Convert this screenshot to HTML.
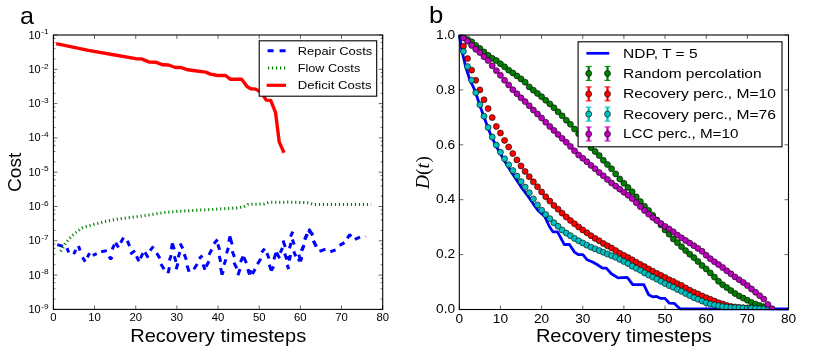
<!DOCTYPE html>
<html><head><meta charset="utf-8"><title>Recovery costs and D(t)</title>
<style>html,body{margin:0;padding:0;background:#fff;}body{width:831px;height:354px;overflow:hidden;font-family:"Liberation Sans", sans-serif;}svg{display:block;will-change:transform;}</style></head>
<body>
<svg width="831" height="354" viewBox="0 0 831 354" font-family='"Liberation Sans", sans-serif' fill="#000">
<rect width="831" height="354" fill="#fff"/>
<g id="panelA">
<g fill="none" stroke="#0000ff" stroke-width="3" stroke-linejoin="miter" stroke-miterlimit="1.7">
<polyline points="57.34,244.67 62.99,246.36"/>
<polyline points="66.95,248.06 68.79,252.29"/>
<polyline points="73.73,254.13 75.85,249.89"/>
<polyline points="78.53,246.08 80.08,250.6"/>
<polyline points="82.49,257.38 85.31,261.62"/>
<polyline points="87.43,257.38 89.55,253.14"/>
<polyline points="92.8,255.4 96.75,253.56"/>
<polyline points="101.13,251.73 106.78,250.6"/>
<polyline points="109.04,256.53 110.73,259.07 112.15,256.95"/>
<polyline points="112.15,249.47 114.41,244.67"/>
<polyline points="115.71,242.83 118.53,247.49"/>
<polyline points="120.65,242.83 123.47,237.6"/>
<polyline points="127.43,240.71 129.55,246.08"/>
<polyline points="130.25,254.13 135.06,250.6"/>
<polyline points="136.47,256.25 139.01,261.19"/>
<polyline points="140.42,258.37 142.97,253.14"/>
<polyline points="144.94,252.29 148.19,257.66"/>
<polyline points="150.03,250.6 153.42,246.36"/>
<polyline points="156.67,253.14 159.92,258.37"/>
<polyline points="160.9,264.02 164.15,269.24"/>
<polyline points="168.11,273.2 169.38,267.27"/>
<polyline points="169.38,260.49 171.21,255.12"/>
<polyline points="171.36,249.19 172.34,243.54 174.32,249.19"/>
<polyline points="174.32,256.25 176.02,261.9"/>
<polyline points="176.16,269.24 177.85,263.31"/>
<polyline points="178.28,257.38 179.83,252.01"/>
<polyline points="180.11,243.54 182.8,248.48"/>
<polyline points="184.21,254.13 186.33,259.78"/>
<polyline points="187.03,265.43 189.15,271.79"/>
<polyline points="193.84,269.24 197.23,264.02"/>
<polyline points="199.07,258.65 202.46,255.54"/>
<polyline points="203.02,264.44 205,269.67"/>
<polyline points="205.99,266.7 208.95,261.33"/>
<polyline points="208.95,254.84 211.78,249.47"/>
<polyline points="213.9,243.82 217.57,239.58"/>
<polyline points="217.85,244.24 219.55,249.89"/>
<polyline points="219.27,255.97 220.68,261.9"/>
<polyline points="220.68,267.97 222.09,274.61 223.22,270.94"/>
<polyline points="224.07,264.72 225.9,259.36"/>
<polyline points="226.61,253.42 228.31,247.77"/>
<polyline points="228.87,241.84 229.86,236.47 232.12,244.38"/>
<polyline points="232.26,251.31 234.38,256.95"/>
<polyline points="233.95,262.6 236.78,268.25"/>
<polyline points="237.91,275.32 240.03,268.96"/>
<polyline points="240.45,262.18 242.43,257.8 244.27,258.23 246.38,263.03"/>
<polyline points="247.8,269.24 249.49,274.33"/>
<polyline points="248.11,269.5 249.66,274.31 251.07,270.35"/>
<polyline points="252.34,274.02 255.17,269.08"/>
<polyline points="257.43,264.14 260.82,258.77"/>
<polyline points="261.67,252.41 264.77,248.6"/>
<polyline points="266.89,253.12 269.01,258.49"/>
<polyline points="269.29,264.7 271.27,270.35 273.67,266.54"/>
<polyline points="273.95,259.33 275.51,253.97 277.2,253.68 279.6,258.34"/>
<polyline points="280.31,252.84 282.43,247.89"/>
<polyline points="282.99,240.41 285.25,246.9"/>
<polyline points="284.69,253.54 286.81,259.62"/>
<polyline points="287.94,255.94 289.49,260.18 290.48,254.95"/>
<polyline points="287.09,264.84 288.79,269.08"/>
<polyline points="289.49,248.32 291.05,242.95"/>
<polyline points="292.46,239.56 294.15,244.5"/>
<polyline points="290.48,236.73 292.88,231.65"/>
<polyline points="293.73,251.42 295.85,256.37"/>
<polyline points="297.82,260.89 301.92,257.78"/>
<polyline points="301.5,250.72 304.04,245.07"/>
<polyline points="304.6,239.42 307.43,234.19"/>
<polyline points="308.42,230.52 309.41,229.95 312.8,235.18"/>
<polyline points="313.5,240.83 316.33,246.48"/>
<polyline points="298.87,254.6 300.56,261.24 301.69,257.01"/>
<polyline points="301.69,250.79 303.95,245.42"/>
<polyline points="304.94,239.49 306.78,234.12"/>
<polyline points="308.19,232.43 309.6,231.16 312.71,235.11"/>
<polyline points="313.42,240.9 316.24,246.55"/>
<polyline points="319.49,251.36 325.42,249.1"/>
<polyline points="330.37,251.78 335.59,249.94"/>
<polyline points="339.55,245.42 344.49,242.6"/>
<polyline points="347.32,238.36 349.72,234.55 351.13,236.67"/>
<polyline points="354.8,239.49 360.03,237.23"/>
</g>
<polyline points="364.9,235.2 366.5,237.8" fill="none" stroke="#8c8cff" stroke-width="0.8"/>
<polyline points="60.6,251.3 63.2,247.4 65.2,243.8 67,241.4 69.1,238.9 73.1,234.9 75.1,233.2 77.6,231.6 80.7,228.5 84.7,226.9 88.9,225.9 92.4,224.8 96.7,223.6 100.5,222.7 104.4,221.7 108,220.9 111.5,220.3 115.7,219.4 119.7,218.8 123.5,218.3 127.3,217.9 134.7,217 148.9,215 163,212.7 178.9,211.2 207.8,209.7 236.6,207.9 243.9,206.8 248.2,204.4 264,203.9 268.4,202.4 288.6,202.1 307.4,202.7 314.6,204.6 371.2,204.6" fill="none" stroke="#008000" stroke-width="3" stroke-dasharray="1.15 2.85"/>
<polyline points="56.1,43.6 88.4,50.3 112,54.5 135.8,58.7 141.5,58.9 149.4,62.1 156.2,62.3 162.9,64.8 168.6,65 175.4,67.5 181,67.5 187.8,69.8 195,70.7 205.7,72.1 210.5,74.1 217.6,75.5 225.5,75.5 230.3,79.2 241.6,79.2 247.3,86.8 250.9,88.8 255.7,89.1 261.4,92.5 266.2,100.1 270.7,100.4 275.5,112.3 279.2,141.9 284,152.7" fill="none" stroke="#ff0000" stroke-width="3.4" stroke-linejoin="round"/>
<line x1="53.4" x2="53.4" y1="309.4" y2="305.4" stroke="#000" stroke-width="0.6"/>
<line x1="53.4" x2="53.4" y1="35" y2="39" stroke="#000" stroke-width="0.6"/>
<line x1="94.56" x2="94.56" y1="309.4" y2="305.4" stroke="#000" stroke-width="0.6"/>
<line x1="94.56" x2="94.56" y1="35" y2="39" stroke="#000" stroke-width="0.6"/>
<line x1="135.72" x2="135.72" y1="309.4" y2="305.4" stroke="#000" stroke-width="0.6"/>
<line x1="135.72" x2="135.72" y1="35" y2="39" stroke="#000" stroke-width="0.6"/>
<line x1="176.89" x2="176.89" y1="309.4" y2="305.4" stroke="#000" stroke-width="0.6"/>
<line x1="176.89" x2="176.89" y1="35" y2="39" stroke="#000" stroke-width="0.6"/>
<line x1="218.05" x2="218.05" y1="309.4" y2="305.4" stroke="#000" stroke-width="0.6"/>
<line x1="218.05" x2="218.05" y1="35" y2="39" stroke="#000" stroke-width="0.6"/>
<line x1="259.21" x2="259.21" y1="309.4" y2="305.4" stroke="#000" stroke-width="0.6"/>
<line x1="259.21" x2="259.21" y1="35" y2="39" stroke="#000" stroke-width="0.6"/>
<line x1="300.38" x2="300.38" y1="309.4" y2="305.4" stroke="#000" stroke-width="0.6"/>
<line x1="300.38" x2="300.38" y1="35" y2="39" stroke="#000" stroke-width="0.6"/>
<line x1="341.54" x2="341.54" y1="309.4" y2="305.4" stroke="#000" stroke-width="0.6"/>
<line x1="341.54" x2="341.54" y1="35" y2="39" stroke="#000" stroke-width="0.6"/>
<line x1="382.7" x2="382.7" y1="309.4" y2="305.4" stroke="#000" stroke-width="0.6"/>
<line x1="382.7" x2="382.7" y1="35" y2="39" stroke="#000" stroke-width="0.6"/>
<line x1="53.4" x2="57.4" y1="309.4" y2="309.4" stroke="#000" stroke-width="0.6"/>
<line x1="382.7" x2="378.7" y1="309.4" y2="309.4" stroke="#000" stroke-width="0.6"/>
<line x1="53.4" x2="55.4" y1="299.07" y2="299.07" stroke="#000" stroke-width="0.6"/>
<line x1="382.7" x2="380.7" y1="299.07" y2="299.07" stroke="#000" stroke-width="0.6"/>
<line x1="53.4" x2="55.4" y1="288.75" y2="288.75" stroke="#000" stroke-width="0.6"/>
<line x1="382.7" x2="380.7" y1="288.75" y2="288.75" stroke="#000" stroke-width="0.6"/>
<line x1="53.4" x2="55.4" y1="282.71" y2="282.71" stroke="#000" stroke-width="0.6"/>
<line x1="382.7" x2="380.7" y1="282.71" y2="282.71" stroke="#000" stroke-width="0.6"/>
<line x1="53.4" x2="55.4" y1="278.42" y2="278.42" stroke="#000" stroke-width="0.6"/>
<line x1="382.7" x2="380.7" y1="278.42" y2="278.42" stroke="#000" stroke-width="0.6"/>
<line x1="53.4" x2="57.4" y1="275.1" y2="275.1" stroke="#000" stroke-width="0.6"/>
<line x1="382.7" x2="378.7" y1="275.1" y2="275.1" stroke="#000" stroke-width="0.6"/>
<line x1="53.4" x2="55.4" y1="264.77" y2="264.77" stroke="#000" stroke-width="0.6"/>
<line x1="382.7" x2="380.7" y1="264.77" y2="264.77" stroke="#000" stroke-width="0.6"/>
<line x1="53.4" x2="55.4" y1="254.45" y2="254.45" stroke="#000" stroke-width="0.6"/>
<line x1="382.7" x2="380.7" y1="254.45" y2="254.45" stroke="#000" stroke-width="0.6"/>
<line x1="53.4" x2="55.4" y1="248.41" y2="248.41" stroke="#000" stroke-width="0.6"/>
<line x1="382.7" x2="380.7" y1="248.41" y2="248.41" stroke="#000" stroke-width="0.6"/>
<line x1="53.4" x2="55.4" y1="244.12" y2="244.12" stroke="#000" stroke-width="0.6"/>
<line x1="382.7" x2="380.7" y1="244.12" y2="244.12" stroke="#000" stroke-width="0.6"/>
<line x1="53.4" x2="57.4" y1="240.8" y2="240.8" stroke="#000" stroke-width="0.6"/>
<line x1="382.7" x2="378.7" y1="240.8" y2="240.8" stroke="#000" stroke-width="0.6"/>
<line x1="53.4" x2="55.4" y1="230.47" y2="230.47" stroke="#000" stroke-width="0.6"/>
<line x1="382.7" x2="380.7" y1="230.47" y2="230.47" stroke="#000" stroke-width="0.6"/>
<line x1="53.4" x2="55.4" y1="220.15" y2="220.15" stroke="#000" stroke-width="0.6"/>
<line x1="382.7" x2="380.7" y1="220.15" y2="220.15" stroke="#000" stroke-width="0.6"/>
<line x1="53.4" x2="55.4" y1="214.11" y2="214.11" stroke="#000" stroke-width="0.6"/>
<line x1="382.7" x2="380.7" y1="214.11" y2="214.11" stroke="#000" stroke-width="0.6"/>
<line x1="53.4" x2="55.4" y1="209.82" y2="209.82" stroke="#000" stroke-width="0.6"/>
<line x1="382.7" x2="380.7" y1="209.82" y2="209.82" stroke="#000" stroke-width="0.6"/>
<line x1="53.4" x2="57.4" y1="206.5" y2="206.5" stroke="#000" stroke-width="0.6"/>
<line x1="382.7" x2="378.7" y1="206.5" y2="206.5" stroke="#000" stroke-width="0.6"/>
<line x1="53.4" x2="55.4" y1="196.17" y2="196.17" stroke="#000" stroke-width="0.6"/>
<line x1="382.7" x2="380.7" y1="196.17" y2="196.17" stroke="#000" stroke-width="0.6"/>
<line x1="53.4" x2="55.4" y1="185.85" y2="185.85" stroke="#000" stroke-width="0.6"/>
<line x1="382.7" x2="380.7" y1="185.85" y2="185.85" stroke="#000" stroke-width="0.6"/>
<line x1="53.4" x2="55.4" y1="179.81" y2="179.81" stroke="#000" stroke-width="0.6"/>
<line x1="382.7" x2="380.7" y1="179.81" y2="179.81" stroke="#000" stroke-width="0.6"/>
<line x1="53.4" x2="55.4" y1="175.52" y2="175.52" stroke="#000" stroke-width="0.6"/>
<line x1="382.7" x2="380.7" y1="175.52" y2="175.52" stroke="#000" stroke-width="0.6"/>
<line x1="53.4" x2="57.4" y1="172.2" y2="172.2" stroke="#000" stroke-width="0.6"/>
<line x1="382.7" x2="378.7" y1="172.2" y2="172.2" stroke="#000" stroke-width="0.6"/>
<line x1="53.4" x2="55.4" y1="161.87" y2="161.87" stroke="#000" stroke-width="0.6"/>
<line x1="382.7" x2="380.7" y1="161.87" y2="161.87" stroke="#000" stroke-width="0.6"/>
<line x1="53.4" x2="55.4" y1="151.55" y2="151.55" stroke="#000" stroke-width="0.6"/>
<line x1="382.7" x2="380.7" y1="151.55" y2="151.55" stroke="#000" stroke-width="0.6"/>
<line x1="53.4" x2="55.4" y1="145.51" y2="145.51" stroke="#000" stroke-width="0.6"/>
<line x1="382.7" x2="380.7" y1="145.51" y2="145.51" stroke="#000" stroke-width="0.6"/>
<line x1="53.4" x2="55.4" y1="141.22" y2="141.22" stroke="#000" stroke-width="0.6"/>
<line x1="382.7" x2="380.7" y1="141.22" y2="141.22" stroke="#000" stroke-width="0.6"/>
<line x1="53.4" x2="57.4" y1="137.9" y2="137.9" stroke="#000" stroke-width="0.6"/>
<line x1="382.7" x2="378.7" y1="137.9" y2="137.9" stroke="#000" stroke-width="0.6"/>
<line x1="53.4" x2="55.4" y1="127.57" y2="127.57" stroke="#000" stroke-width="0.6"/>
<line x1="382.7" x2="380.7" y1="127.57" y2="127.57" stroke="#000" stroke-width="0.6"/>
<line x1="53.4" x2="55.4" y1="117.25" y2="117.25" stroke="#000" stroke-width="0.6"/>
<line x1="382.7" x2="380.7" y1="117.25" y2="117.25" stroke="#000" stroke-width="0.6"/>
<line x1="53.4" x2="55.4" y1="111.21" y2="111.21" stroke="#000" stroke-width="0.6"/>
<line x1="382.7" x2="380.7" y1="111.21" y2="111.21" stroke="#000" stroke-width="0.6"/>
<line x1="53.4" x2="55.4" y1="106.92" y2="106.92" stroke="#000" stroke-width="0.6"/>
<line x1="382.7" x2="380.7" y1="106.92" y2="106.92" stroke="#000" stroke-width="0.6"/>
<line x1="53.4" x2="57.4" y1="103.6" y2="103.6" stroke="#000" stroke-width="0.6"/>
<line x1="382.7" x2="378.7" y1="103.6" y2="103.6" stroke="#000" stroke-width="0.6"/>
<line x1="53.4" x2="55.4" y1="93.27" y2="93.27" stroke="#000" stroke-width="0.6"/>
<line x1="382.7" x2="380.7" y1="93.27" y2="93.27" stroke="#000" stroke-width="0.6"/>
<line x1="53.4" x2="55.4" y1="82.95" y2="82.95" stroke="#000" stroke-width="0.6"/>
<line x1="382.7" x2="380.7" y1="82.95" y2="82.95" stroke="#000" stroke-width="0.6"/>
<line x1="53.4" x2="55.4" y1="76.91" y2="76.91" stroke="#000" stroke-width="0.6"/>
<line x1="382.7" x2="380.7" y1="76.91" y2="76.91" stroke="#000" stroke-width="0.6"/>
<line x1="53.4" x2="55.4" y1="72.62" y2="72.62" stroke="#000" stroke-width="0.6"/>
<line x1="382.7" x2="380.7" y1="72.62" y2="72.62" stroke="#000" stroke-width="0.6"/>
<line x1="53.4" x2="57.4" y1="69.3" y2="69.3" stroke="#000" stroke-width="0.6"/>
<line x1="382.7" x2="378.7" y1="69.3" y2="69.3" stroke="#000" stroke-width="0.6"/>
<line x1="53.4" x2="55.4" y1="58.97" y2="58.97" stroke="#000" stroke-width="0.6"/>
<line x1="382.7" x2="380.7" y1="58.97" y2="58.97" stroke="#000" stroke-width="0.6"/>
<line x1="53.4" x2="55.4" y1="48.65" y2="48.65" stroke="#000" stroke-width="0.6"/>
<line x1="382.7" x2="380.7" y1="48.65" y2="48.65" stroke="#000" stroke-width="0.6"/>
<line x1="53.4" x2="55.4" y1="42.61" y2="42.61" stroke="#000" stroke-width="0.6"/>
<line x1="382.7" x2="380.7" y1="42.61" y2="42.61" stroke="#000" stroke-width="0.6"/>
<line x1="53.4" x2="55.4" y1="38.32" y2="38.32" stroke="#000" stroke-width="0.6"/>
<line x1="382.7" x2="380.7" y1="38.32" y2="38.32" stroke="#000" stroke-width="0.6"/>
<line x1="53.4" x2="57.4" y1="35" y2="35" stroke="#000" stroke-width="0.6"/>
<line x1="382.7" x2="378.7" y1="35" y2="35" stroke="#000" stroke-width="0.6"/>
<rect x="53.4" y="35" width="329.3" height="274.4" fill="none" stroke="#000" stroke-width="1.1"/>
<text x="50.25" y="321.3" font-size="10.2" textLength="6.3" lengthAdjust="spacingAndGlyphs">0</text>
<text x="88.26" y="321.3" font-size="10.2" textLength="12.6" lengthAdjust="spacingAndGlyphs">10</text>
<text x="129.42" y="321.3" font-size="10.2" textLength="12.6" lengthAdjust="spacingAndGlyphs">20</text>
<text x="170.59" y="321.3" font-size="10.2" textLength="12.6" lengthAdjust="spacingAndGlyphs">30</text>
<text x="211.75" y="321.3" font-size="10.2" textLength="12.6" lengthAdjust="spacingAndGlyphs">40</text>
<text x="252.91" y="321.3" font-size="10.2" textLength="12.6" lengthAdjust="spacingAndGlyphs">50</text>
<text x="294.07" y="321.3" font-size="10.2" textLength="12.6" lengthAdjust="spacingAndGlyphs">60</text>
<text x="335.24" y="321.3" font-size="10.2" textLength="12.6" lengthAdjust="spacingAndGlyphs">70</text>
<text x="376.4" y="321.3" font-size="10.2" textLength="12.6" lengthAdjust="spacingAndGlyphs">80</text>
<text x="40.7" y="312.9" font-size="10.6" text-anchor="end" textLength="12.2" lengthAdjust="spacingAndGlyphs">10</text>
<text x="41.2" y="308.6" font-size="7.6" textLength="7.4" lengthAdjust="spacingAndGlyphs">-9</text>
<text x="40.7" y="278.6" font-size="10.6" text-anchor="end" textLength="12.2" lengthAdjust="spacingAndGlyphs">10</text>
<text x="41.2" y="274.3" font-size="7.6" textLength="7.4" lengthAdjust="spacingAndGlyphs">-8</text>
<text x="40.7" y="244.3" font-size="10.6" text-anchor="end" textLength="12.2" lengthAdjust="spacingAndGlyphs">10</text>
<text x="41.2" y="240" font-size="7.6" textLength="7.4" lengthAdjust="spacingAndGlyphs">-7</text>
<text x="40.7" y="210" font-size="10.6" text-anchor="end" textLength="12.2" lengthAdjust="spacingAndGlyphs">10</text>
<text x="41.2" y="205.7" font-size="7.6" textLength="7.4" lengthAdjust="spacingAndGlyphs">-6</text>
<text x="40.7" y="175.7" font-size="10.6" text-anchor="end" textLength="12.2" lengthAdjust="spacingAndGlyphs">10</text>
<text x="41.2" y="171.4" font-size="7.6" textLength="7.4" lengthAdjust="spacingAndGlyphs">-5</text>
<text x="40.7" y="141.4" font-size="10.6" text-anchor="end" textLength="12.2" lengthAdjust="spacingAndGlyphs">10</text>
<text x="41.2" y="137.1" font-size="7.6" textLength="7.4" lengthAdjust="spacingAndGlyphs">-4</text>
<text x="40.7" y="107.1" font-size="10.6" text-anchor="end" textLength="12.2" lengthAdjust="spacingAndGlyphs">10</text>
<text x="41.2" y="102.8" font-size="7.6" textLength="7.4" lengthAdjust="spacingAndGlyphs">-3</text>
<text x="40.7" y="72.8" font-size="10.6" text-anchor="end" textLength="12.2" lengthAdjust="spacingAndGlyphs">10</text>
<text x="41.2" y="68.5" font-size="7.6" textLength="7.4" lengthAdjust="spacingAndGlyphs">-2</text>
<text x="40.7" y="38.5" font-size="10.6" text-anchor="end" textLength="12.2" lengthAdjust="spacingAndGlyphs">10</text>
<text x="41.2" y="34.2" font-size="7.6" textLength="7.4" lengthAdjust="spacingAndGlyphs">-1</text>
<text x="130.2" y="341.9" font-size="18.2" textLength="176" lengthAdjust="spacingAndGlyphs">Recovery timesteps</text>
<text transform="translate(21.0 172.3) rotate(-90)" font-size="18.8" text-anchor="middle" textLength="39.2" lengthAdjust="spacingAndGlyphs">Cost</text>
<text x="19.9" y="24.0" font-size="24" textLength="14.0" lengthAdjust="spacingAndGlyphs">a</text>
<rect x="259.2" y="40.8" width="117.5" height="55.4" fill="#fff" stroke="#000" stroke-width="1.1"/>
<line x1="267.6" x2="286" y1="50.8" y2="50.8" stroke="#0000ff" stroke-width="3" stroke-dasharray="6 6"/>
<line x1="268.0" x2="286" y1="68.0" y2="68.0" stroke="#008000" stroke-width="3" stroke-dasharray="1.15 2.85"/>
<line x1="266.6" x2="286" y1="85.3" y2="85.3" stroke="#ff0000" stroke-width="3.2"/>
<text x="297.8" y="54.7" font-size="11.6" textLength="74.4" lengthAdjust="spacingAndGlyphs">Repair Costs</text>
<text x="297.8" y="71.9" font-size="11.6" textLength="62.4" lengthAdjust="spacingAndGlyphs">Flow Costs</text>
<text x="297.8" y="89.2" font-size="11.6" textLength="73.7" lengthAdjust="spacingAndGlyphs">Deficit Costs</text>
</g>
<g id="panelB">
<polyline points="459.3,35 462.1,51.47 465.51,66.29 469.92,80.02 475.02,90.72 479.88,105.55 483.99,117.08 488.11,128.33 492.22,138.21 496.34,146.45 500.45,153.86 504.56,161.13 508.68,167.86 512.79,174.31 516.91,180.49 521.02,186.8 525.14,192.29 529.25,197.92 533.37,204.09 538,210.5 544.7,216.4 549.4,226.5 552.9,231.8 557.5,231.8 564.3,244.5 569.4,244.5 574.5,252.1 578.3,254.7 582.9,254.7 587.2,259.8 593.1,262.3 597.4,264.8 602.5,268.1 606.3,268.1 611.4,273.7 618.1,277.9 627.2,277.3 632.8,284.7 643.8,284.7 648.7,294.8 652.6,296.8 656.6,296.4 660.7,298.4 664.9,298.4 669.4,303.2 674.2,303.3 678.5,307.5 680.3,308.8 788.5,309" fill="none" stroke="#0000ff" stroke-width="2.8" stroke-linejoin="round"/>
<clipPath id="cb"><rect x="459.3" y="35" width="329.2" height="274.5"/></clipPath>
<g clip-path="url(#cb)">
<circle cx="463.42" cy="36.92" r="3.0" fill="#008000" stroke="#000" stroke-width="0.6"/>
<circle cx="467.53" cy="39.39" r="3.0" fill="#008000" stroke="#000" stroke-width="0.6"/>
<circle cx="471.64" cy="41.86" r="3.0" fill="#008000" stroke="#000" stroke-width="0.6"/>
<circle cx="475.76" cy="45.43" r="3.0" fill="#008000" stroke="#000" stroke-width="0.6"/>
<circle cx="479.88" cy="48.45" r="3.0" fill="#008000" stroke="#000" stroke-width="0.6"/>
<circle cx="483.99" cy="52.02" r="3.0" fill="#008000" stroke="#000" stroke-width="0.6"/>
<circle cx="488.11" cy="55.31" r="3.0" fill="#008000" stroke="#000" stroke-width="0.6"/>
<circle cx="492.22" cy="58.33" r="3.0" fill="#008000" stroke="#000" stroke-width="0.6"/>
<circle cx="496.34" cy="60.53" r="3.0" fill="#008000" stroke="#000" stroke-width="0.6"/>
<circle cx="500.45" cy="63.82" r="3.0" fill="#008000" stroke="#000" stroke-width="0.6"/>
<circle cx="504.56" cy="66.84" r="3.0" fill="#008000" stroke="#000" stroke-width="0.6"/>
<circle cx="508.68" cy="70.14" r="3.0" fill="#008000" stroke="#000" stroke-width="0.6"/>
<circle cx="512.79" cy="72.88" r="3.0" fill="#008000" stroke="#000" stroke-width="0.6"/>
<circle cx="516.91" cy="75.9" r="3.0" fill="#008000" stroke="#000" stroke-width="0.6"/>
<circle cx="521.02" cy="78.92" r="3.0" fill="#008000" stroke="#000" stroke-width="0.6"/>
<circle cx="525.14" cy="82.21" r="3.0" fill="#008000" stroke="#000" stroke-width="0.6"/>
<circle cx="529.25" cy="86.88" r="3.0" fill="#008000" stroke="#000" stroke-width="0.6"/>
<circle cx="533.37" cy="90.17" r="3.0" fill="#008000" stroke="#000" stroke-width="0.6"/>
<circle cx="537.49" cy="93.47" r="3.0" fill="#008000" stroke="#000" stroke-width="0.6"/>
<circle cx="541.6" cy="96.76" r="3.0" fill="#008000" stroke="#000" stroke-width="0.6"/>
<circle cx="545.72" cy="100.33" r="3.0" fill="#008000" stroke="#000" stroke-width="0.6"/>
<circle cx="549.83" cy="103.9" r="3.0" fill="#008000" stroke="#000" stroke-width="0.6"/>
<circle cx="553.95" cy="107.74" r="3.0" fill="#008000" stroke="#000" stroke-width="0.6"/>
<circle cx="558.06" cy="111.86" r="3.0" fill="#008000" stroke="#000" stroke-width="0.6"/>
<circle cx="562.17" cy="115.84" r="3.0" fill="#008000" stroke="#000" stroke-width="0.6"/>
<circle cx="566.29" cy="120.26" r="3.0" fill="#008000" stroke="#000" stroke-width="0.6"/>
<circle cx="570.4" cy="124.32" r="3.0" fill="#008000" stroke="#000" stroke-width="0.6"/>
<circle cx="574.52" cy="129.07" r="3.0" fill="#008000" stroke="#000" stroke-width="0.6"/>
<circle cx="578.63" cy="133.82" r="3.0" fill="#008000" stroke="#000" stroke-width="0.6"/>
<circle cx="582.75" cy="138.76" r="3.0" fill="#008000" stroke="#000" stroke-width="0.6"/>
<circle cx="586.87" cy="143.15" r="3.0" fill="#008000" stroke="#000" stroke-width="0.6"/>
<circle cx="590.98" cy="147.63" r="3.0" fill="#008000" stroke="#000" stroke-width="0.6"/>
<circle cx="595.1" cy="151.53" r="3.0" fill="#008000" stroke="#000" stroke-width="0.6"/>
<circle cx="599.21" cy="155.59" r="3.0" fill="#008000" stroke="#000" stroke-width="0.6"/>
<circle cx="603.33" cy="160.34" r="3.0" fill="#008000" stroke="#000" stroke-width="0.6"/>
<circle cx="607.44" cy="164.56" r="3.0" fill="#008000" stroke="#000" stroke-width="0.6"/>
<circle cx="611.56" cy="168.82" r="3.0" fill="#008000" stroke="#000" stroke-width="0.6"/>
<circle cx="615.67" cy="173.9" r="3.0" fill="#008000" stroke="#000" stroke-width="0.6"/>
<circle cx="619.78" cy="178.98" r="3.0" fill="#008000" stroke="#000" stroke-width="0.6"/>
<circle cx="623.9" cy="183.23" r="3.0" fill="#008000" stroke="#000" stroke-width="0.6"/>
<circle cx="628.01" cy="187.46" r="3.0" fill="#008000" stroke="#000" stroke-width="0.6"/>
<circle cx="632.13" cy="191.74" r="3.0" fill="#008000" stroke="#000" stroke-width="0.6"/>
<circle cx="636.25" cy="196.87" r="3.0" fill="#008000" stroke="#000" stroke-width="0.6"/>
<circle cx="640.36" cy="201.62" r="3.0" fill="#008000" stroke="#000" stroke-width="0.6"/>
<circle cx="644.48" cy="206.18" r="3.0" fill="#008000" stroke="#000" stroke-width="0.6"/>
<circle cx="648.59" cy="210.43" r="3.0" fill="#008000" stroke="#000" stroke-width="0.6"/>
<circle cx="652.71" cy="215.18" r="3.0" fill="#008000" stroke="#000" stroke-width="0.6"/>
<circle cx="656.82" cy="220.01" r="3.0" fill="#008000" stroke="#000" stroke-width="0.6"/>
<circle cx="660.93" cy="224.95" r="3.0" fill="#008000" stroke="#000" stroke-width="0.6"/>
<circle cx="665.05" cy="229.9" r="3.0" fill="#008000" stroke="#000" stroke-width="0.6"/>
<circle cx="669.16" cy="234.15" r="3.0" fill="#008000" stroke="#000" stroke-width="0.6"/>
<circle cx="673.28" cy="238.9" r="3.0" fill="#008000" stroke="#000" stroke-width="0.6"/>
<circle cx="677.39" cy="242.63" r="3.0" fill="#008000" stroke="#000" stroke-width="0.6"/>
<circle cx="681.51" cy="246.64" r="3.0" fill="#008000" stroke="#000" stroke-width="0.6"/>
<circle cx="685.62" cy="250.62" r="3.0" fill="#008000" stroke="#000" stroke-width="0.6"/>
<circle cx="689.74" cy="254.19" r="3.0" fill="#008000" stroke="#000" stroke-width="0.6"/>
<circle cx="693.86" cy="257.62" r="3.0" fill="#008000" stroke="#000" stroke-width="0.6"/>
<circle cx="697.97" cy="261.52" r="3.0" fill="#008000" stroke="#000" stroke-width="0.6"/>
<circle cx="702.09" cy="265.58" r="3.0" fill="#008000" stroke="#000" stroke-width="0.6"/>
<circle cx="706.2" cy="268.98" r="3.0" fill="#008000" stroke="#000" stroke-width="0.6"/>
<circle cx="710.32" cy="272.88" r="3.0" fill="#008000" stroke="#000" stroke-width="0.6"/>
<circle cx="714.43" cy="277.11" r="3.0" fill="#008000" stroke="#000" stroke-width="0.6"/>
<circle cx="718.55" cy="281.36" r="3.0" fill="#008000" stroke="#000" stroke-width="0.6"/>
<circle cx="722.66" cy="284.8" r="3.0" fill="#008000" stroke="#000" stroke-width="0.6"/>
<circle cx="726.78" cy="287.62" r="3.0" fill="#008000" stroke="#000" stroke-width="0.6"/>
<circle cx="730.89" cy="290.61" r="3.0" fill="#008000" stroke="#000" stroke-width="0.6"/>
<circle cx="735" cy="293.58" r="3.0" fill="#008000" stroke="#000" stroke-width="0.6"/>
<circle cx="739.12" cy="296.05" r="3.0" fill="#008000" stroke="#000" stroke-width="0.6"/>
<circle cx="743.24" cy="298.11" r="3.0" fill="#008000" stroke="#000" stroke-width="0.6"/>
<circle cx="747.35" cy="300.17" r="3.0" fill="#008000" stroke="#000" stroke-width="0.6"/>
<circle cx="751.47" cy="302.45" r="3.0" fill="#008000" stroke="#000" stroke-width="0.6"/>
<circle cx="755.58" cy="304.15" r="3.0" fill="#008000" stroke="#000" stroke-width="0.6"/>
<circle cx="759.69" cy="305.52" r="3.0" fill="#008000" stroke="#000" stroke-width="0.6"/>
<circle cx="763.81" cy="306.7" r="3.0" fill="#008000" stroke="#000" stroke-width="0.6"/>
<circle cx="767.92" cy="307.88" r="3.0" fill="#008000" stroke="#000" stroke-width="0.6"/>
<circle cx="772.04" cy="308.95" r="3.0" fill="#008000" stroke="#000" stroke-width="0.6"/>
<circle cx="463.42" cy="46.25" r="3.0" fill="#ff0000" stroke="#000" stroke-width="0.6"/>
<circle cx="467.53" cy="58.61" r="3.0" fill="#ff0000" stroke="#000" stroke-width="0.6"/>
<circle cx="471.64" cy="70.14" r="3.0" fill="#ff0000" stroke="#000" stroke-width="0.6"/>
<circle cx="475.76" cy="80.29" r="3.0" fill="#ff0000" stroke="#000" stroke-width="0.6"/>
<circle cx="479.88" cy="89.9" r="3.0" fill="#ff0000" stroke="#000" stroke-width="0.6"/>
<circle cx="483.99" cy="99.78" r="3.0" fill="#ff0000" stroke="#000" stroke-width="0.6"/>
<circle cx="488.11" cy="108.57" r="3.0" fill="#ff0000" stroke="#000" stroke-width="0.6"/>
<circle cx="492.22" cy="117.62" r="3.0" fill="#ff0000" stroke="#000" stroke-width="0.6"/>
<circle cx="496.34" cy="126.41" r="3.0" fill="#ff0000" stroke="#000" stroke-width="0.6"/>
<circle cx="500.45" cy="133" r="3.0" fill="#ff0000" stroke="#000" stroke-width="0.6"/>
<circle cx="504.56" cy="140.41" r="3.0" fill="#ff0000" stroke="#000" stroke-width="0.6"/>
<circle cx="508.68" cy="147" r="3.0" fill="#ff0000" stroke="#000" stroke-width="0.6"/>
<circle cx="512.79" cy="153.58" r="3.0" fill="#ff0000" stroke="#000" stroke-width="0.6"/>
<circle cx="516.91" cy="159.9" r="3.0" fill="#ff0000" stroke="#000" stroke-width="0.6"/>
<circle cx="521.02" cy="165.94" r="3.0" fill="#ff0000" stroke="#000" stroke-width="0.6"/>
<circle cx="525.14" cy="171.43" r="3.0" fill="#ff0000" stroke="#000" stroke-width="0.6"/>
<circle cx="529.25" cy="176.64" r="3.0" fill="#ff0000" stroke="#000" stroke-width="0.6"/>
<circle cx="533.37" cy="181.86" r="3.0" fill="#ff0000" stroke="#000" stroke-width="0.6"/>
<circle cx="537.49" cy="186.8" r="3.0" fill="#ff0000" stroke="#000" stroke-width="0.6"/>
<circle cx="541.6" cy="191.88" r="3.0" fill="#ff0000" stroke="#000" stroke-width="0.6"/>
<circle cx="545.72" cy="196.68" r="3.0" fill="#ff0000" stroke="#000" stroke-width="0.6"/>
<circle cx="549.83" cy="201.07" r="3.0" fill="#ff0000" stroke="#000" stroke-width="0.6"/>
<circle cx="553.95" cy="205.46" r="3.0" fill="#ff0000" stroke="#000" stroke-width="0.6"/>
<circle cx="558.06" cy="209.17" r="3.0" fill="#ff0000" stroke="#000" stroke-width="0.6"/>
<circle cx="562.17" cy="213.15" r="3.0" fill="#ff0000" stroke="#000" stroke-width="0.6"/>
<circle cx="566.29" cy="216.99" r="3.0" fill="#ff0000" stroke="#000" stroke-width="0.6"/>
<circle cx="570.4" cy="220.42" r="3.0" fill="#ff0000" stroke="#000" stroke-width="0.6"/>
<circle cx="574.52" cy="223.8" r="3.0" fill="#ff0000" stroke="#000" stroke-width="0.6"/>
<circle cx="578.63" cy="226.88" r="3.0" fill="#ff0000" stroke="#000" stroke-width="0.6"/>
<circle cx="582.75" cy="229.9" r="3.0" fill="#ff0000" stroke="#000" stroke-width="0.6"/>
<circle cx="586.87" cy="232.8" r="3.0" fill="#ff0000" stroke="#000" stroke-width="0.6"/>
<circle cx="590.98" cy="235.66" r="3.0" fill="#ff0000" stroke="#000" stroke-width="0.6"/>
<circle cx="595.1" cy="238.4" r="3.0" fill="#ff0000" stroke="#000" stroke-width="0.6"/>
<circle cx="599.21" cy="240.77" r="3.0" fill="#ff0000" stroke="#000" stroke-width="0.6"/>
<circle cx="603.33" cy="243.48" r="3.0" fill="#ff0000" stroke="#000" stroke-width="0.6"/>
<circle cx="607.44" cy="245.82" r="3.0" fill="#ff0000" stroke="#000" stroke-width="0.6"/>
<circle cx="611.56" cy="248.01" r="3.0" fill="#ff0000" stroke="#000" stroke-width="0.6"/>
<circle cx="615.67" cy="250.59" r="3.0" fill="#ff0000" stroke="#000" stroke-width="0.6"/>
<circle cx="619.78" cy="253.15" r="3.0" fill="#ff0000" stroke="#000" stroke-width="0.6"/>
<circle cx="623.9" cy="255.42" r="3.0" fill="#ff0000" stroke="#000" stroke-width="0.6"/>
<circle cx="628.01" cy="257.62" r="3.0" fill="#ff0000" stroke="#000" stroke-width="0.6"/>
<circle cx="632.13" cy="259.82" r="3.0" fill="#ff0000" stroke="#000" stroke-width="0.6"/>
<circle cx="636.25" cy="262.2" r="3.0" fill="#ff0000" stroke="#000" stroke-width="0.6"/>
<circle cx="640.36" cy="264.4" r="3.0" fill="#ff0000" stroke="#000" stroke-width="0.6"/>
<circle cx="644.48" cy="266.62" r="3.0" fill="#ff0000" stroke="#000" stroke-width="0.6"/>
<circle cx="648.59" cy="268.98" r="3.0" fill="#ff0000" stroke="#000" stroke-width="0.6"/>
<circle cx="652.71" cy="271.18" r="3.0" fill="#ff0000" stroke="#000" stroke-width="0.6"/>
<circle cx="656.82" cy="273.38" r="3.0" fill="#ff0000" stroke="#000" stroke-width="0.6"/>
<circle cx="660.93" cy="275.43" r="3.0" fill="#ff0000" stroke="#000" stroke-width="0.6"/>
<circle cx="665.05" cy="277.47" r="3.0" fill="#ff0000" stroke="#000" stroke-width="0.6"/>
<circle cx="669.16" cy="279.66" r="3.0" fill="#ff0000" stroke="#000" stroke-width="0.6"/>
<circle cx="673.28" cy="281.5" r="3.0" fill="#ff0000" stroke="#000" stroke-width="0.6"/>
<circle cx="677.39" cy="283.64" r="3.0" fill="#ff0000" stroke="#000" stroke-width="0.6"/>
<circle cx="681.51" cy="285.43" r="3.0" fill="#ff0000" stroke="#000" stroke-width="0.6"/>
<circle cx="685.62" cy="287.98" r="3.0" fill="#ff0000" stroke="#000" stroke-width="0.6"/>
<circle cx="689.74" cy="290.18" r="3.0" fill="#ff0000" stroke="#000" stroke-width="0.6"/>
<circle cx="693.86" cy="292.21" r="3.0" fill="#ff0000" stroke="#000" stroke-width="0.6"/>
<circle cx="697.97" cy="293.91" r="3.0" fill="#ff0000" stroke="#000" stroke-width="0.6"/>
<circle cx="702.09" cy="295.94" r="3.0" fill="#ff0000" stroke="#000" stroke-width="0.6"/>
<circle cx="706.2" cy="297.64" r="3.0" fill="#ff0000" stroke="#000" stroke-width="0.6"/>
<circle cx="710.32" cy="299.34" r="3.0" fill="#ff0000" stroke="#000" stroke-width="0.6"/>
<circle cx="714.43" cy="301.02" r="3.0" fill="#ff0000" stroke="#000" stroke-width="0.6"/>
<circle cx="718.55" cy="302.72" r="3.0" fill="#ff0000" stroke="#000" stroke-width="0.6"/>
<circle cx="722.66" cy="304.01" r="3.0" fill="#ff0000" stroke="#000" stroke-width="0.6"/>
<circle cx="726.78" cy="305.44" r="3.0" fill="#ff0000" stroke="#000" stroke-width="0.6"/>
<circle cx="730.89" cy="306.48" r="3.0" fill="#ff0000" stroke="#000" stroke-width="0.6"/>
<circle cx="735" cy="306.96" r="3.0" fill="#ff0000" stroke="#000" stroke-width="0.6"/>
<circle cx="739.12" cy="307.44" r="3.0" fill="#ff0000" stroke="#000" stroke-width="0.6"/>
<circle cx="743.24" cy="307.75" r="3.0" fill="#ff0000" stroke="#000" stroke-width="0.6"/>
<circle cx="747.35" cy="308.06" r="3.0" fill="#ff0000" stroke="#000" stroke-width="0.6"/>
<circle cx="751.47" cy="308.37" r="3.0" fill="#ff0000" stroke="#000" stroke-width="0.6"/>
<circle cx="755.58" cy="308.68" r="3.0" fill="#ff0000" stroke="#000" stroke-width="0.6"/>
<circle cx="759.69" cy="308.88" r="3.0" fill="#ff0000" stroke="#000" stroke-width="0.6"/>
<circle cx="763.81" cy="309.09" r="3.0" fill="#ff0000" stroke="#000" stroke-width="0.6"/>
<circle cx="767.92" cy="309.29" r="3.0" fill="#ff0000" stroke="#000" stroke-width="0.6"/>
<circle cx="772.04" cy="309.5" r="3.0" fill="#ff0000" stroke="#000" stroke-width="0.6"/>
<circle cx="463.42" cy="51.47" r="3.0" fill="#00bfbf" stroke="#000" stroke-width="0.6"/>
<circle cx="467.53" cy="66.57" r="3.0" fill="#00bfbf" stroke="#000" stroke-width="0.6"/>
<circle cx="471.64" cy="80.29" r="3.0" fill="#00bfbf" stroke="#000" stroke-width="0.6"/>
<circle cx="475.76" cy="92.64" r="3.0" fill="#00bfbf" stroke="#000" stroke-width="0.6"/>
<circle cx="479.88" cy="104.72" r="3.0" fill="#00bfbf" stroke="#000" stroke-width="0.6"/>
<circle cx="483.99" cy="116.25" r="3.0" fill="#00bfbf" stroke="#000" stroke-width="0.6"/>
<circle cx="488.11" cy="127.51" r="3.0" fill="#00bfbf" stroke="#000" stroke-width="0.6"/>
<circle cx="492.22" cy="137.11" r="3.0" fill="#00bfbf" stroke="#000" stroke-width="0.6"/>
<circle cx="496.34" cy="145.07" r="3.0" fill="#00bfbf" stroke="#000" stroke-width="0.6"/>
<circle cx="500.45" cy="152.21" r="3.0" fill="#00bfbf" stroke="#000" stroke-width="0.6"/>
<circle cx="504.56" cy="158.8" r="3.0" fill="#00bfbf" stroke="#000" stroke-width="0.6"/>
<circle cx="508.68" cy="164.84" r="3.0" fill="#00bfbf" stroke="#000" stroke-width="0.6"/>
<circle cx="512.79" cy="170.6" r="3.0" fill="#00bfbf" stroke="#000" stroke-width="0.6"/>
<circle cx="516.91" cy="176.09" r="3.0" fill="#00bfbf" stroke="#000" stroke-width="0.6"/>
<circle cx="521.02" cy="181.58" r="3.0" fill="#00bfbf" stroke="#000" stroke-width="0.6"/>
<circle cx="525.14" cy="187.07" r="3.0" fill="#00bfbf" stroke="#000" stroke-width="0.6"/>
<circle cx="529.25" cy="192.7" r="3.0" fill="#00bfbf" stroke="#000" stroke-width="0.6"/>
<circle cx="533.37" cy="198.88" r="3.0" fill="#00bfbf" stroke="#000" stroke-width="0.6"/>
<circle cx="537.49" cy="204.92" r="3.0" fill="#00bfbf" stroke="#000" stroke-width="0.6"/>
<circle cx="541.6" cy="210.13" r="3.0" fill="#00bfbf" stroke="#000" stroke-width="0.6"/>
<circle cx="545.72" cy="214.52" r="3.0" fill="#00bfbf" stroke="#000" stroke-width="0.6"/>
<circle cx="549.83" cy="218.64" r="3.0" fill="#00bfbf" stroke="#000" stroke-width="0.6"/>
<circle cx="553.95" cy="222.76" r="3.0" fill="#00bfbf" stroke="#000" stroke-width="0.6"/>
<circle cx="558.06" cy="226.33" r="3.0" fill="#00bfbf" stroke="#000" stroke-width="0.6"/>
<circle cx="562.17" cy="230" r="3.0" fill="#00bfbf" stroke="#000" stroke-width="0.6"/>
<circle cx="566.29" cy="233.05" r="3.0" fill="#00bfbf" stroke="#000" stroke-width="0.6"/>
<circle cx="570.4" cy="235.66" r="3.0" fill="#00bfbf" stroke="#000" stroke-width="0.6"/>
<circle cx="574.52" cy="238.4" r="3.0" fill="#00bfbf" stroke="#000" stroke-width="0.6"/>
<circle cx="578.63" cy="240.77" r="3.0" fill="#00bfbf" stroke="#000" stroke-width="0.6"/>
<circle cx="582.75" cy="242.96" r="3.0" fill="#00bfbf" stroke="#000" stroke-width="0.6"/>
<circle cx="586.87" cy="245.16" r="3.0" fill="#00bfbf" stroke="#000" stroke-width="0.6"/>
<circle cx="590.98" cy="247.19" r="3.0" fill="#00bfbf" stroke="#000" stroke-width="0.6"/>
<circle cx="595.1" cy="248.89" r="3.0" fill="#00bfbf" stroke="#000" stroke-width="0.6"/>
<circle cx="599.21" cy="250.59" r="3.0" fill="#00bfbf" stroke="#000" stroke-width="0.6"/>
<circle cx="603.33" cy="252.29" r="3.0" fill="#00bfbf" stroke="#000" stroke-width="0.6"/>
<circle cx="607.44" cy="254" r="3.0" fill="#00bfbf" stroke="#000" stroke-width="0.6"/>
<circle cx="611.56" cy="255.7" r="3.0" fill="#00bfbf" stroke="#000" stroke-width="0.6"/>
<circle cx="615.67" cy="257.35" r="3.0" fill="#00bfbf" stroke="#000" stroke-width="0.6"/>
<circle cx="619.78" cy="259.4" r="3.0" fill="#00bfbf" stroke="#000" stroke-width="0.6"/>
<circle cx="623.9" cy="261.52" r="3.0" fill="#00bfbf" stroke="#000" stroke-width="0.6"/>
<circle cx="628.01" cy="263.55" r="3.0" fill="#00bfbf" stroke="#000" stroke-width="0.6"/>
<circle cx="632.13" cy="266.13" r="3.0" fill="#00bfbf" stroke="#000" stroke-width="0.6"/>
<circle cx="636.25" cy="268.32" r="3.0" fill="#00bfbf" stroke="#000" stroke-width="0.6"/>
<circle cx="640.36" cy="270.33" r="3.0" fill="#00bfbf" stroke="#000" stroke-width="0.6"/>
<circle cx="644.48" cy="272.88" r="3.0" fill="#00bfbf" stroke="#000" stroke-width="0.6"/>
<circle cx="648.59" cy="275.08" r="3.0" fill="#00bfbf" stroke="#000" stroke-width="0.6"/>
<circle cx="652.71" cy="277.11" r="3.0" fill="#00bfbf" stroke="#000" stroke-width="0.6"/>
<circle cx="656.82" cy="279.14" r="3.0" fill="#00bfbf" stroke="#000" stroke-width="0.6"/>
<circle cx="660.93" cy="281.36" r="3.0" fill="#00bfbf" stroke="#000" stroke-width="0.6"/>
<circle cx="665.05" cy="283.56" r="3.0" fill="#00bfbf" stroke="#000" stroke-width="0.6"/>
<circle cx="669.16" cy="285.62" r="3.0" fill="#00bfbf" stroke="#000" stroke-width="0.6"/>
<circle cx="673.28" cy="287.21" r="3.0" fill="#00bfbf" stroke="#000" stroke-width="0.6"/>
<circle cx="677.39" cy="289.46" r="3.0" fill="#00bfbf" stroke="#000" stroke-width="0.6"/>
<circle cx="681.51" cy="291.36" r="3.0" fill="#00bfbf" stroke="#000" stroke-width="0.6"/>
<circle cx="685.62" cy="293.58" r="3.0" fill="#00bfbf" stroke="#000" stroke-width="0.6"/>
<circle cx="689.74" cy="295.58" r="3.0" fill="#00bfbf" stroke="#000" stroke-width="0.6"/>
<circle cx="693.86" cy="297.64" r="3.0" fill="#00bfbf" stroke="#000" stroke-width="0.6"/>
<circle cx="697.97" cy="299.34" r="3.0" fill="#00bfbf" stroke="#000" stroke-width="0.6"/>
<circle cx="702.09" cy="301.02" r="3.0" fill="#00bfbf" stroke="#000" stroke-width="0.6"/>
<circle cx="706.2" cy="302.72" r="3.0" fill="#00bfbf" stroke="#000" stroke-width="0.6"/>
<circle cx="710.32" cy="304.01" r="3.0" fill="#00bfbf" stroke="#000" stroke-width="0.6"/>
<circle cx="714.43" cy="304.92" r="3.0" fill="#00bfbf" stroke="#000" stroke-width="0.6"/>
<circle cx="718.55" cy="305.77" r="3.0" fill="#00bfbf" stroke="#000" stroke-width="0.6"/>
<circle cx="722.66" cy="306.62" r="3.0" fill="#00bfbf" stroke="#000" stroke-width="0.6"/>
<circle cx="726.78" cy="307.11" r="3.0" fill="#00bfbf" stroke="#000" stroke-width="0.6"/>
<circle cx="730.89" cy="307.44" r="3.0" fill="#00bfbf" stroke="#000" stroke-width="0.6"/>
<circle cx="735" cy="307.61" r="3.0" fill="#00bfbf" stroke="#000" stroke-width="0.6"/>
<circle cx="739.12" cy="307.78" r="3.0" fill="#00bfbf" stroke="#000" stroke-width="0.6"/>
<circle cx="743.24" cy="307.96" r="3.0" fill="#00bfbf" stroke="#000" stroke-width="0.6"/>
<circle cx="747.35" cy="308.13" r="3.0" fill="#00bfbf" stroke="#000" stroke-width="0.6"/>
<circle cx="751.47" cy="308.33" r="3.0" fill="#00bfbf" stroke="#000" stroke-width="0.6"/>
<circle cx="755.58" cy="308.54" r="3.0" fill="#00bfbf" stroke="#000" stroke-width="0.6"/>
<circle cx="759.69" cy="308.75" r="3.0" fill="#00bfbf" stroke="#000" stroke-width="0.6"/>
<circle cx="763.81" cy="308.95" r="3.0" fill="#00bfbf" stroke="#000" stroke-width="0.6"/>
<circle cx="767.92" cy="309.23" r="3.0" fill="#00bfbf" stroke="#000" stroke-width="0.6"/>
<circle cx="772.04" cy="309.5" r="3.0" fill="#00bfbf" stroke="#000" stroke-width="0.6"/>
<circle cx="463.42" cy="38.02" r="3.0" fill="#bf00bf" stroke="#000" stroke-width="0.6"/>
<circle cx="467.53" cy="41.31" r="3.0" fill="#bf00bf" stroke="#000" stroke-width="0.6"/>
<circle cx="471.64" cy="45.43" r="3.0" fill="#bf00bf" stroke="#000" stroke-width="0.6"/>
<circle cx="475.76" cy="49.27" r="3.0" fill="#bf00bf" stroke="#000" stroke-width="0.6"/>
<circle cx="479.88" cy="52.57" r="3.0" fill="#bf00bf" stroke="#000" stroke-width="0.6"/>
<circle cx="483.99" cy="56.69" r="3.0" fill="#bf00bf" stroke="#000" stroke-width="0.6"/>
<circle cx="488.11" cy="60.53" r="3.0" fill="#bf00bf" stroke="#000" stroke-width="0.6"/>
<circle cx="492.22" cy="65.74" r="3.0" fill="#bf00bf" stroke="#000" stroke-width="0.6"/>
<circle cx="496.34" cy="70.69" r="3.0" fill="#bf00bf" stroke="#000" stroke-width="0.6"/>
<circle cx="500.45" cy="75.35" r="3.0" fill="#bf00bf" stroke="#000" stroke-width="0.6"/>
<circle cx="504.56" cy="80.29" r="3.0" fill="#bf00bf" stroke="#000" stroke-width="0.6"/>
<circle cx="508.68" cy="84.96" r="3.0" fill="#bf00bf" stroke="#000" stroke-width="0.6"/>
<circle cx="512.79" cy="89.63" r="3.0" fill="#bf00bf" stroke="#000" stroke-width="0.6"/>
<circle cx="516.91" cy="93.74" r="3.0" fill="#bf00bf" stroke="#000" stroke-width="0.6"/>
<circle cx="521.02" cy="97.86" r="3.0" fill="#bf00bf" stroke="#000" stroke-width="0.6"/>
<circle cx="525.14" cy="101.62" r="3.0" fill="#bf00bf" stroke="#000" stroke-width="0.6"/>
<circle cx="529.25" cy="105.68" r="3.0" fill="#bf00bf" stroke="#000" stroke-width="0.6"/>
<circle cx="533.37" cy="110.08" r="3.0" fill="#bf00bf" stroke="#000" stroke-width="0.6"/>
<circle cx="537.49" cy="114.06" r="3.0" fill="#bf00bf" stroke="#000" stroke-width="0.6"/>
<circle cx="541.6" cy="118.04" r="3.0" fill="#bf00bf" stroke="#000" stroke-width="0.6"/>
<circle cx="545.72" cy="122.29" r="3.0" fill="#bf00bf" stroke="#000" stroke-width="0.6"/>
<circle cx="549.83" cy="126.52" r="3.0" fill="#bf00bf" stroke="#000" stroke-width="0.6"/>
<circle cx="553.95" cy="130.42" r="3.0" fill="#bf00bf" stroke="#000" stroke-width="0.6"/>
<circle cx="558.06" cy="134.48" r="3.0" fill="#bf00bf" stroke="#000" stroke-width="0.6"/>
<circle cx="562.17" cy="138.38" r="3.0" fill="#bf00bf" stroke="#000" stroke-width="0.6"/>
<circle cx="566.29" cy="142.33" r="3.0" fill="#bf00bf" stroke="#000" stroke-width="0.6"/>
<circle cx="570.4" cy="146.45" r="3.0" fill="#bf00bf" stroke="#000" stroke-width="0.6"/>
<circle cx="574.52" cy="150.84" r="3.0" fill="#bf00bf" stroke="#000" stroke-width="0.6"/>
<circle cx="578.63" cy="154.96" r="3.0" fill="#bf00bf" stroke="#000" stroke-width="0.6"/>
<circle cx="582.75" cy="158.25" r="3.0" fill="#bf00bf" stroke="#000" stroke-width="0.6"/>
<circle cx="586.87" cy="161.68" r="3.0" fill="#bf00bf" stroke="#000" stroke-width="0.6"/>
<circle cx="590.98" cy="165.39" r="3.0" fill="#bf00bf" stroke="#000" stroke-width="0.6"/>
<circle cx="595.1" cy="168.82" r="3.0" fill="#bf00bf" stroke="#000" stroke-width="0.6"/>
<circle cx="599.21" cy="172.52" r="3.0" fill="#bf00bf" stroke="#000" stroke-width="0.6"/>
<circle cx="603.33" cy="175.82" r="3.0" fill="#bf00bf" stroke="#000" stroke-width="0.6"/>
<circle cx="607.44" cy="179.39" r="3.0" fill="#bf00bf" stroke="#000" stroke-width="0.6"/>
<circle cx="611.56" cy="182.96" r="3.0" fill="#bf00bf" stroke="#000" stroke-width="0.6"/>
<circle cx="615.67" cy="186.11" r="3.0" fill="#bf00bf" stroke="#000" stroke-width="0.6"/>
<circle cx="619.78" cy="189.16" r="3.0" fill="#bf00bf" stroke="#000" stroke-width="0.6"/>
<circle cx="623.9" cy="192.21" r="3.0" fill="#bf00bf" stroke="#000" stroke-width="0.6"/>
<circle cx="628.01" cy="195.17" r="3.0" fill="#bf00bf" stroke="#000" stroke-width="0.6"/>
<circle cx="632.13" cy="198.6" r="3.0" fill="#bf00bf" stroke="#000" stroke-width="0.6"/>
<circle cx="636.25" cy="202.72" r="3.0" fill="#bf00bf" stroke="#000" stroke-width="0.6"/>
<circle cx="640.36" cy="206.7" r="3.0" fill="#bf00bf" stroke="#000" stroke-width="0.6"/>
<circle cx="644.48" cy="210.54" r="3.0" fill="#bf00bf" stroke="#000" stroke-width="0.6"/>
<circle cx="648.59" cy="214.11" r="3.0" fill="#bf00bf" stroke="#000" stroke-width="0.6"/>
<circle cx="652.71" cy="217.54" r="3.0" fill="#bf00bf" stroke="#000" stroke-width="0.6"/>
<circle cx="656.82" cy="220.56" r="3.0" fill="#bf00bf" stroke="#000" stroke-width="0.6"/>
<circle cx="660.93" cy="223.58" r="3.0" fill="#bf00bf" stroke="#000" stroke-width="0.6"/>
<circle cx="665.05" cy="226.46" r="3.0" fill="#bf00bf" stroke="#000" stroke-width="0.6"/>
<circle cx="669.16" cy="229.07" r="3.0" fill="#bf00bf" stroke="#000" stroke-width="0.6"/>
<circle cx="673.28" cy="231.82" r="3.0" fill="#bf00bf" stroke="#000" stroke-width="0.6"/>
<circle cx="677.39" cy="235.11" r="3.0" fill="#bf00bf" stroke="#000" stroke-width="0.6"/>
<circle cx="681.51" cy="237.86" r="3.0" fill="#bf00bf" stroke="#000" stroke-width="0.6"/>
<circle cx="685.62" cy="240.46" r="3.0" fill="#bf00bf" stroke="#000" stroke-width="0.6"/>
<circle cx="689.74" cy="243.07" r="3.0" fill="#bf00bf" stroke="#000" stroke-width="0.6"/>
<circle cx="693.86" cy="245.68" r="3.0" fill="#bf00bf" stroke="#000" stroke-width="0.6"/>
<circle cx="697.97" cy="248.4" r="3.0" fill="#bf00bf" stroke="#000" stroke-width="0.6"/>
<circle cx="702.09" cy="251.31" r="3.0" fill="#bf00bf" stroke="#000" stroke-width="0.6"/>
<circle cx="706.2" cy="255.29" r="3.0" fill="#bf00bf" stroke="#000" stroke-width="0.6"/>
<circle cx="710.32" cy="258.72" r="3.0" fill="#bf00bf" stroke="#000" stroke-width="0.6"/>
<circle cx="714.43" cy="261.74" r="3.0" fill="#bf00bf" stroke="#000" stroke-width="0.6"/>
<circle cx="718.55" cy="264.62" r="3.0" fill="#bf00bf" stroke="#000" stroke-width="0.6"/>
<circle cx="722.66" cy="267.58" r="3.0" fill="#bf00bf" stroke="#000" stroke-width="0.6"/>
<circle cx="726.78" cy="270.8" r="3.0" fill="#bf00bf" stroke="#000" stroke-width="0.6"/>
<circle cx="730.89" cy="273.81" r="3.0" fill="#bf00bf" stroke="#000" stroke-width="0.6"/>
<circle cx="735" cy="276.92" r="3.0" fill="#bf00bf" stroke="#000" stroke-width="0.6"/>
<circle cx="739.12" cy="279.66" r="3.0" fill="#bf00bf" stroke="#000" stroke-width="0.6"/>
<circle cx="743.24" cy="282.43" r="3.0" fill="#bf00bf" stroke="#000" stroke-width="0.6"/>
<circle cx="747.35" cy="285.56" r="3.0" fill="#bf00bf" stroke="#000" stroke-width="0.6"/>
<circle cx="751.47" cy="288.91" r="3.0" fill="#bf00bf" stroke="#000" stroke-width="0.6"/>
<circle cx="755.58" cy="292.29" r="3.0" fill="#bf00bf" stroke="#000" stroke-width="0.6"/>
<circle cx="759.69" cy="295.67" r="3.0" fill="#bf00bf" stroke="#000" stroke-width="0.6"/>
<circle cx="763.81" cy="299.07" r="3.0" fill="#bf00bf" stroke="#000" stroke-width="0.6"/>
<circle cx="767.92" cy="304.48" r="3.0" fill="#bf00bf" stroke="#000" stroke-width="0.6"/>
<circle cx="772.04" cy="308.9" r="3.0" fill="#bf00bf" stroke="#000" stroke-width="0.6"/>
</g>
<line x1="459.3" x2="459.3" y1="309.5" y2="305.5" stroke="#000" stroke-width="0.6"/>
<line x1="459.3" x2="459.3" y1="35" y2="39" stroke="#000" stroke-width="0.6"/>
<line x1="500.45" x2="500.45" y1="309.5" y2="305.5" stroke="#000" stroke-width="0.6"/>
<line x1="500.45" x2="500.45" y1="35" y2="39" stroke="#000" stroke-width="0.6"/>
<line x1="541.6" x2="541.6" y1="309.5" y2="305.5" stroke="#000" stroke-width="0.6"/>
<line x1="541.6" x2="541.6" y1="35" y2="39" stroke="#000" stroke-width="0.6"/>
<line x1="582.75" x2="582.75" y1="309.5" y2="305.5" stroke="#000" stroke-width="0.6"/>
<line x1="582.75" x2="582.75" y1="35" y2="39" stroke="#000" stroke-width="0.6"/>
<line x1="623.9" x2="623.9" y1="309.5" y2="305.5" stroke="#000" stroke-width="0.6"/>
<line x1="623.9" x2="623.9" y1="35" y2="39" stroke="#000" stroke-width="0.6"/>
<line x1="665.05" x2="665.05" y1="309.5" y2="305.5" stroke="#000" stroke-width="0.6"/>
<line x1="665.05" x2="665.05" y1="35" y2="39" stroke="#000" stroke-width="0.6"/>
<line x1="706.2" x2="706.2" y1="309.5" y2="305.5" stroke="#000" stroke-width="0.6"/>
<line x1="706.2" x2="706.2" y1="35" y2="39" stroke="#000" stroke-width="0.6"/>
<line x1="747.35" x2="747.35" y1="309.5" y2="305.5" stroke="#000" stroke-width="0.6"/>
<line x1="747.35" x2="747.35" y1="35" y2="39" stroke="#000" stroke-width="0.6"/>
<line x1="788.5" x2="788.5" y1="309.5" y2="305.5" stroke="#000" stroke-width="0.6"/>
<line x1="788.5" x2="788.5" y1="35" y2="39" stroke="#000" stroke-width="0.6"/>
<line x1="459.3" x2="463.3" y1="309.5" y2="309.5" stroke="#000" stroke-width="0.6"/>
<line x1="788.5" x2="784.5" y1="309.5" y2="309.5" stroke="#000" stroke-width="0.6"/>
<line x1="459.3" x2="463.3" y1="254.6" y2="254.6" stroke="#000" stroke-width="0.6"/>
<line x1="788.5" x2="784.5" y1="254.6" y2="254.6" stroke="#000" stroke-width="0.6"/>
<line x1="459.3" x2="463.3" y1="199.7" y2="199.7" stroke="#000" stroke-width="0.6"/>
<line x1="788.5" x2="784.5" y1="199.7" y2="199.7" stroke="#000" stroke-width="0.6"/>
<line x1="459.3" x2="463.3" y1="144.8" y2="144.8" stroke="#000" stroke-width="0.6"/>
<line x1="788.5" x2="784.5" y1="144.8" y2="144.8" stroke="#000" stroke-width="0.6"/>
<line x1="459.3" x2="463.3" y1="89.9" y2="89.9" stroke="#000" stroke-width="0.6"/>
<line x1="788.5" x2="784.5" y1="89.9" y2="89.9" stroke="#000" stroke-width="0.6"/>
<line x1="459.3" x2="463.3" y1="35" y2="35" stroke="#000" stroke-width="0.6"/>
<line x1="788.5" x2="784.5" y1="35" y2="35" stroke="#000" stroke-width="0.6"/>
<rect x="459.3" y="35" width="329.2" height="274.5" fill="none" stroke="#000" stroke-width="1.1"/>
<text x="455.5" y="323.0" font-size="12.3" textLength="7.6" lengthAdjust="spacingAndGlyphs">0</text>
<text x="492.85" y="323.0" font-size="12.3" textLength="15.2" lengthAdjust="spacingAndGlyphs">10</text>
<text x="534" y="323.0" font-size="12.3" textLength="15.2" lengthAdjust="spacingAndGlyphs">20</text>
<text x="575.15" y="323.0" font-size="12.3" textLength="15.2" lengthAdjust="spacingAndGlyphs">30</text>
<text x="616.3" y="323.0" font-size="12.3" textLength="15.2" lengthAdjust="spacingAndGlyphs">40</text>
<text x="657.45" y="323.0" font-size="12.3" textLength="15.2" lengthAdjust="spacingAndGlyphs">50</text>
<text x="698.6" y="323.0" font-size="12.3" textLength="15.2" lengthAdjust="spacingAndGlyphs">60</text>
<text x="739.75" y="323.0" font-size="12.3" textLength="15.2" lengthAdjust="spacingAndGlyphs">70</text>
<text x="780.9" y="323.0" font-size="12.3" textLength="15.2" lengthAdjust="spacingAndGlyphs">80</text>
<text x="436.0" y="313.2" font-size="12.3" textLength="19.1" lengthAdjust="spacingAndGlyphs">0.0</text>
<text x="436.0" y="258.3" font-size="12.3" textLength="19.1" lengthAdjust="spacingAndGlyphs">0.2</text>
<text x="436.0" y="203.4" font-size="12.3" textLength="19.1" lengthAdjust="spacingAndGlyphs">0.4</text>
<text x="436.0" y="148.5" font-size="12.3" textLength="19.1" lengthAdjust="spacingAndGlyphs">0.6</text>
<text x="436.0" y="93.6" font-size="12.3" textLength="19.1" lengthAdjust="spacingAndGlyphs">0.8</text>
<text x="436.0" y="38.7" font-size="12.3" textLength="19.1" lengthAdjust="spacingAndGlyphs">1.0</text>
<text x="535.9" y="341.9" font-size="18.2" textLength="176" lengthAdjust="spacingAndGlyphs">Recovery timesteps</text>
<text transform="translate(429.2 172.6) rotate(-90)" font-size="19.4" text-anchor="middle" font-family='"Liberation Serif", serif' font-style="italic">D<tspan font-style="normal">(</tspan>t<tspan font-style="normal" dx="0.6">)</tspan></text>
<text x="429.0" y="23.3" font-size="23.4" textLength="14.3" lengthAdjust="spacingAndGlyphs">b</text>
<rect x="578.1" y="41.8" width="203.9" height="105" fill="#fff" stroke="#000" stroke-width="1.1"/>
<line x1="586.4" x2="609.2" y1="53.3" y2="53.3" stroke="#0000ff" stroke-width="2.7"/>
<line x1="588.7" x2="588.7" y1="66.4" y2="80.4" stroke="#008000" stroke-width="2.3"/>
<line x1="585.7" x2="591.7" y1="66.4" y2="66.4" stroke="#008000" stroke-width="1"/>
<line x1="585.7" x2="591.7" y1="80.4" y2="80.4" stroke="#008000" stroke-width="1"/>
<circle cx="588.7" cy="73.4" r="3.0" fill="#008000" stroke="#000" stroke-width="0.6"/>
<line x1="607.5" x2="607.5" y1="66.4" y2="80.4" stroke="#008000" stroke-width="2.3"/>
<line x1="604.5" x2="610.5" y1="66.4" y2="66.4" stroke="#008000" stroke-width="1"/>
<line x1="604.5" x2="610.5" y1="80.4" y2="80.4" stroke="#008000" stroke-width="1"/>
<circle cx="607.5" cy="73.4" r="3.0" fill="#008000" stroke="#000" stroke-width="0.6"/>
<line x1="588.7" x2="588.7" y1="86.9" y2="100.9" stroke="#ff0000" stroke-width="2.3"/>
<line x1="585.7" x2="591.7" y1="86.9" y2="86.9" stroke="#ff0000" stroke-width="1"/>
<line x1="585.7" x2="591.7" y1="100.9" y2="100.9" stroke="#ff0000" stroke-width="1"/>
<circle cx="588.7" cy="93.9" r="3.0" fill="#ff0000" stroke="#000" stroke-width="0.6"/>
<line x1="607.5" x2="607.5" y1="86.9" y2="100.9" stroke="#ff0000" stroke-width="2.3"/>
<line x1="604.5" x2="610.5" y1="86.9" y2="86.9" stroke="#ff0000" stroke-width="1"/>
<line x1="604.5" x2="610.5" y1="100.9" y2="100.9" stroke="#ff0000" stroke-width="1"/>
<circle cx="607.5" cy="93.9" r="3.0" fill="#ff0000" stroke="#000" stroke-width="0.6"/>
<line x1="588.7" x2="588.7" y1="107.1" y2="121.1" stroke="#00bfbf" stroke-width="2.3"/>
<line x1="585.7" x2="591.7" y1="107.1" y2="107.1" stroke="#00bfbf" stroke-width="1"/>
<line x1="585.7" x2="591.7" y1="121.1" y2="121.1" stroke="#00bfbf" stroke-width="1"/>
<circle cx="588.7" cy="114.1" r="3.0" fill="#00bfbf" stroke="#000" stroke-width="0.6"/>
<line x1="607.5" x2="607.5" y1="107.1" y2="121.1" stroke="#00bfbf" stroke-width="2.3"/>
<line x1="604.5" x2="610.5" y1="107.1" y2="107.1" stroke="#00bfbf" stroke-width="1"/>
<line x1="604.5" x2="610.5" y1="121.1" y2="121.1" stroke="#00bfbf" stroke-width="1"/>
<circle cx="607.5" cy="114.1" r="3.0" fill="#00bfbf" stroke="#000" stroke-width="0.6"/>
<line x1="588.7" x2="588.7" y1="127" y2="141" stroke="#bf00bf" stroke-width="2.3"/>
<line x1="585.7" x2="591.7" y1="127" y2="127" stroke="#bf00bf" stroke-width="1"/>
<line x1="585.7" x2="591.7" y1="141" y2="141" stroke="#bf00bf" stroke-width="1"/>
<circle cx="588.7" cy="134" r="3.0" fill="#bf00bf" stroke="#000" stroke-width="0.6"/>
<line x1="607.5" x2="607.5" y1="127" y2="141" stroke="#bf00bf" stroke-width="2.3"/>
<line x1="604.5" x2="610.5" y1="127" y2="127" stroke="#bf00bf" stroke-width="1"/>
<line x1="604.5" x2="610.5" y1="141" y2="141" stroke="#bf00bf" stroke-width="1"/>
<circle cx="607.5" cy="134" r="3.0" fill="#bf00bf" stroke="#000" stroke-width="0.6"/>
<text x="623.0" y="57.9" font-size="12.2" textLength="74.6" lengthAdjust="spacingAndGlyphs">NDP, T = 5</text>
<text x="623.0" y="77.8" font-size="12.2" textLength="138.6" lengthAdjust="spacingAndGlyphs">Random percolation</text>
<text x="623.0" y="98.3" font-size="12.2" textLength="152.9" lengthAdjust="spacingAndGlyphs">Recovery perc., M=10</text>
<text x="623.0" y="118.5" font-size="12.2" textLength="152.9" lengthAdjust="spacingAndGlyphs">Recovery perc., M=76</text>
<text x="623.0" y="138.4" font-size="12.2" textLength="115.4" lengthAdjust="spacingAndGlyphs">LCC perc., M=10</text>
</g>
</svg>
</body></html>
